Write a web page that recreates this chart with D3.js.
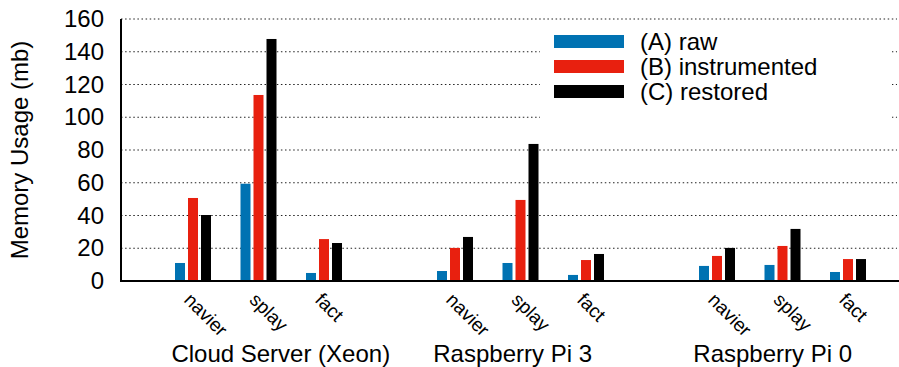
<!DOCTYPE html>
<html>
<head>
<meta charset="utf-8">
<script src="https://cdn.jsdelivr.net/npm/d3@7"></script>
<style>
  body { margin: 0; background: #fff; }
  text { font-family: "Liberation Sans", Arial, Helvetica, sans-serif; fill: #000; }
  .grid line { stroke: #222; stroke-width: 1.2; stroke-dasharray: 1.5 2.6; }
</style>
</head>
<body>
<div id="chart"></div>
<script>
"use strict";

// values, in order: Xeon (navier, splay, fact), Pi 3 (...), Pi 0 (...)
const platforms = ["Cloud Server (Xeon)", "Raspberry Pi 3", "Raspberry Pi 0"];
const benchmarks = ["navier", "splay", "fact"];
const seriesNames = ["(A) raw", "(B) instrumented", "(C) restored"];
const rawValues = [11, 59.4, 4.9, 6.1, 11, 3.7, 9.2, 9.8, 5.5];
const instrumentedValues = [50.7, 113.6, 25.6, 20.2, 49.5, 12.8, 15.3, 21.4, 13.4];
const restoredValues = [40.3, 147.8, 23.2, 26.9, 83.7, 16.5, 20.2, 31.8, 13.4];
const yTicks = [0, 20, 40, 60, 80, 100, 120, 140, 160];

let BarChart = function(div) {
  let self = {
    SVG: null,
    width: 899,
    height: 367,
    xScale: null,
    yScale: null
  };

  let colors = ["#0072b2", "#e8200f", "#000000"];
  let seriesValues = [rawValues, instrumentedValues, restoredValues];

  init();

  function init() {
    self.SVG = d3.select(div)
      .append("svg")
      .attr("width", self.width)
      .attr("height", self.height)
      .attr("viewBox", [0, 0, self.width, self.height].join(" "));

    draw();
  }

  function draw() {
    let margin = { top: 19, bottom: 86, left: 121, right: 0 };

    // one slot per benchmark, an empty slot between platforms
    self.xScale = d3.scaleLinear()
      .domain([0, 12])
      .range([127.5, 913.5]);

    self.yScale = d3.scaleLinear()
      .domain([0, 160])
      .range([self.height - margin.bottom, margin.top]);

    let slot = (p, b) => 1 + p * 4 + b;

    // grid
    self.SVG.append("g")
      .attr("class", "grid")
      .selectAll("line")
      .data(yTicks.filter(d => d > 0))
      .enter().append("line")
      .attr("x1", margin.left)
      .attr("x2", self.width - 2)
      .attr("y1", d => self.yScale(d))
      .attr("y2", d => self.yScale(d));

    // bars
    let rows = [];
    platforms.forEach((p, pi) => {
      benchmarks.forEach((b, bi) => {
        seriesValues.forEach((vals, si) => {
          rows.push({ k: slot(pi, bi), s: si, v: vals[pi * 3 + bi] });
        });
      });
    });

    let barW = 10, barStep = 13;
    self.SVG.append("g")
      .selectAll("rect")
      .data(rows)
      .enter().append("rect")
      .attr("x", d => self.xScale(d.k) + (d.s - 1) * barStep - barW / 2)
      .attr("y", d => self.yScale(d.v))
      .attr("width", barW)
      .attr("height", d => self.yScale(0) - self.yScale(d.v))
      .attr("fill", d => colors[d.s]);

    // axes
    let yAxis = d3.axisLeft(self.yScale)
      .tickValues(yTicks)
      .tickSize(0)
      .tickPadding(17);

    let yG = self.SVG.append("g")
      .attr("transform", "translate(" + margin.left + ", 0)")
      .call(yAxis);
    yG.select(".domain").remove();
    yG.selectAll("text")
      .attr("font-size", 24)
      .attr("font-family", "Liberation Sans, Arial, sans-serif")
      .attr("fill", "#000");

    self.SVG.append("line")
      .attr("x1", margin.left)
      .attr("x2", margin.left)
      .attr("y1", self.yScale(160))
      .attr("y2", self.yScale(0) + 1)
      .attr("stroke", "#000")
      .attr("stroke-width", 2);

    self.SVG.append("line")
      .attr("x1", margin.left - 1)
      .attr("x2", self.width)
      .attr("y1", self.yScale(0))
      .attr("y2", self.yScale(0))
      .attr("stroke", "#000")
      .attr("stroke-width", 2);

    self.SVG.append("text")
      .attr("transform", "translate(28, 150) rotate(-90)")
      .attr("text-anchor", "middle")
      .attr("font-size", 24)
      .text("Memory Usage (mb)");

    // rotated benchmark labels
    let benchRows = [];
    platforms.forEach((p, pi) => benchmarks.forEach((b, bi) => benchRows.push({ k: slot(pi, bi), name: b })));

    self.SVG.append("g")
      .selectAll("text")
      .data(benchRows)
      .enter().append("text")
      .attr("transform", d => "translate(" + (self.xScale(d.k) - 10) + ", 301) rotate(45)")
      .attr("font-size", 19)
      .text(d => d.name);

    // platform labels
    let labelPos = [2.34, 5.88, 9.85];
    self.SVG.append("g")
      .selectAll("text")
      .data(platforms)
      .enter().append("text")
      .attr("x", (d, i) => self.xScale(labelPos[i]))
      .attr("y", 362)
      .attr("text-anchor", "middle")
      .attr("font-size", 24)
      .text(d => d);

    // legend
    let legend = self.SVG.append("g");
    legend.append("rect")
      .attr("x", 540)
      .attr("y", 26)
      .attr("width", 352)
      .attr("height", 98)
      .attr("fill", "#fff");

    let items = legend.selectAll(".item")
      .data(seriesNames)
      .enter().append("g")
      .attr("class", "item")
      .attr("transform", (d, i) => "translate(554, " + (35 + i * 25) + ")");

    items.append("rect")
      .attr("width", 70)
      .attr("height", 13)
      .attr("fill", (d, i) => colors[i]);

    items.append("text")
      .attr("x", 86)
      .attr("y", 15)
      .attr("font-size", 24)
      .text(d => d);
  }

  return { draw };
};

BarChart("#chart");
</script>
</body>
</html>
